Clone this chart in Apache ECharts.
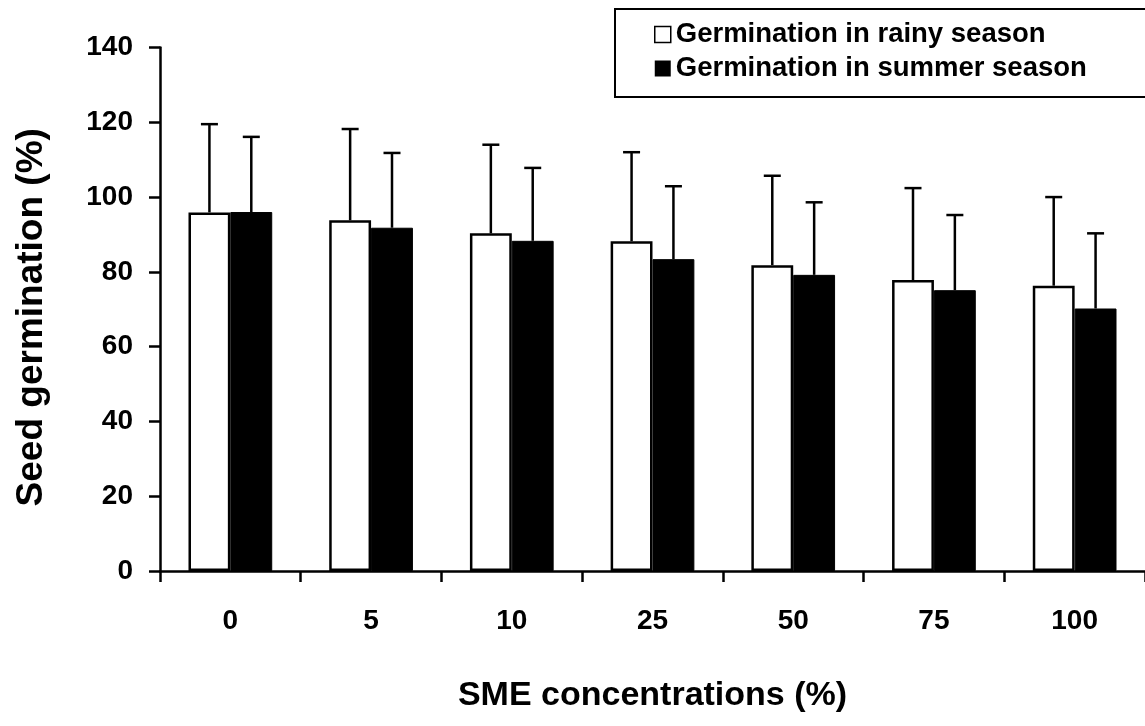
<!DOCTYPE html>
<html>
<head>
<meta charset="utf-8">
<script src="https://cdn.jsdelivr.net/npm/echarts@6/dist/echarts.min.js"></script>
<style>
html,body{margin:0;padding:0;background:#fff;}
#chart{width:1145px;height:726px;}
</style>
</head>
<body>
<div id="chart"></div>
<script>
const categories = ['0', '5', '10', '25', '50', '75', '100'];
const rainyMean = [95.9, 93.8, 90.3, 88.2, 81.8, 77.8, 76.3];
const summerMean = [96.0, 91.8, 88.3, 83.4, 79.2, 75.1, 70.2];
const rainyErr = [23.6, 24.4, 23.7, 23.8, 23.9, 24.6, 23.7];
const summerErr = [20.1, 20.0, 19.5, 19.5, 19.4, 20.1, 20.1];
const yTicks = [0, 20, 40, 60, 80, 100, 120, 140];
const seriesNames = ['Germination in rainy season', 'Germination in summer season'];

const FONT = "'Liberation Sans', Arial, sans-serif";
const CAT_GAP = 0.405;

const chart = echarts.init(document.getElementById('chart'), null, {renderer: 'canvas'});

function errSeries(means, errs, side) {
  return {
    type: 'custom',
    z: 5,
    silent: true,
    encode: {x: 0, y: 1},
    data: means.map((m, i) => [i, m, errs[i]]),
    renderItem: function (params, api) {
      const ci = api.value(0), v = api.value(1), e = api.value(2);
      const base = api.coord([ci, v]);
      const top = api.coord([ci, v + e]);
      const band = api.size([1, 0])[0];
      const bw = band * (1 - CAT_GAP) / 2;
      const x = base[0] + side * bw / 2;
      const cap = 8.5;
      return {
        type: 'group',
        children: [
          {type: 'line', shape: {x1: x, y1: base[1], x2: x, y2: top[1]}, style: {stroke: '#000', lineWidth: 2.5}},
          {type: 'line', shape: {x1: x - cap, y1: top[1], x2: x + cap, y2: top[1]}, style: {stroke: '#000', lineWidth: 2.5}}
        ]
      };
    }
  };
}

const option = {
  backgroundColor: '#fff',
  animation: false,
  textStyle: {fontFamily: FONT},
  grid: {left: 160, right: -4, top: 47.5, bottom: 155, containLabel: false},
  graphic: [{
    type: 'rect',
    shape: {x: 615, y: 9, width: 540, height: 88},
    style: {fill: 'none', stroke: '#000', lineWidth: 2},
    z: 10
  }],
  legend: {
    orient: 'vertical',
    left: 654,
    top: 19,
    padding: 0,
    itemWidth: 16,
    itemHeight: 16,
    itemGap: 3,
    icon: 'rect',
    textStyle: {fontFamily: FONT, fontWeight: 'bold', fontSize: 27.5, color: '#000', lineHeight: 31},
    data: [
      {name: seriesNames[0], itemStyle: {color: '#fff', borderColor: '#000', borderWidth: 1.5}},
      {name: seriesNames[1], itemStyle: {color: '#000', borderColor: '#000', borderWidth: 0}}
    ]
  },
  xAxis: {
    type: 'category',
    data: categories,
    name: 'SME concentrations (%)',
    nameLocation: 'middle',
    nameGap: 108,
    nameTextStyle: {fontFamily: FONT, fontWeight: 'bold', fontSize: 34, color: '#000'},
    axisLine: {show: true, lineStyle: {color: '#000', width: 2.5}},
    axisTick: {show: true, length: 11, lineStyle: {color: '#000', width: 2.5}, interval: 0},
    axisLabel: {fontFamily: FONT, fontWeight: 'bold', fontSize: 28, color: '#000', margin: 36, interval: 0},
    splitLine: {show: false}
  },
  yAxis: {
    type: 'value',
    min: yTicks[0],
    max: yTicks[yTicks.length - 1],
    interval: yTicks[1] - yTicks[0],
    name: 'Seed germination (%)',
    nameLocation: 'middle',
    nameGap: 110,
    nameTextStyle: {fontFamily: FONT, fontWeight: 'bold', fontSize: 37, color: '#000', padding: [0, 16, 0, 0]},
    axisLine: {show: true, lineStyle: {color: '#000', width: 2.5}},
    axisTick: {show: true, length: 11, lineStyle: {color: '#000', width: 2.5}},
    axisLabel: {fontFamily: FONT, fontWeight: 'bold', fontSize: 28, color: '#000', margin: 27},
    splitLine: {show: false}
  },
  series: [
    {
      name: seriesNames[0],
      type: 'bar',
      data: rainyMean,
      barGap: '0%',
      barCategoryGap: (CAT_GAP * 100) + '%',
      itemStyle: {color: '#fff', borderColor: '#000', borderWidth: 2.5},
      z: 2
    },
    {
      name: seriesNames[1],
      type: 'bar',
      data: summerMean,
      barGap: '0%',
      barCategoryGap: (CAT_GAP * 100) + '%',
      itemStyle: {color: '#000', borderColor: '#000', borderWidth: 1},
      z: 2
    },
    errSeries(rainyMean, rainyErr, -1),
    errSeries(summerMean, summerErr, 1)
  ]
};
chart.setOption(option);
</script>
</body>
</html>
